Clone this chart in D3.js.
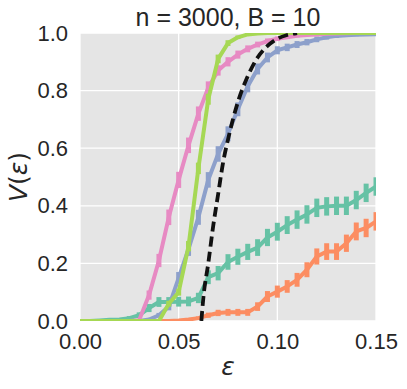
<!DOCTYPE html>
<html>
<head>
<meta charset="utf-8">
<script src="https://cdn.jsdelivr.net/npm/d3@7"></script>
<style>
	body { margin: 0; background: #fff; }
	text { fill: #262626; }
</style>
</head>
<body>
<div id="chart"></div>
<script>
// epsilon grid of the simulations
let eps = [0, 0.005, 0.01, 0.015, 0.02, 0.025, 0.03, 0.035, 0.04, 0.045, 0.05,
	0.055, 0.06, 0.065, 0.07, 0.075, 0.08, 0.085, 0.09, 0.095, 0.1,
	0.105, 0.11, 0.115, 0.12, 0.125, 0.13, 0.135, 0.14, 0.145, 0.15];

let tealVals = [0, 0, 0.002, 0.004, 0.005, 0.01, 0.02, 0.045, 0.066, 0.066, 0.067,
	0.068, 0.08, 0.152, 0.166, 0.205, 0.223, 0.24, 0.255, 0.29, 0.31,
	0.333, 0.352, 0.37, 0.393, 0.398, 0.4, 0.4, 0.42, 0.445, 0.467];
let tealErr = [0, 0, 0.003, 0.004, 0.005, 0.007, 0.01, 0.014, 0.017, 0.017, 0.017,
	0.017, 0.018, 0.024, 0.025, 0.027, 0.028, 0.028, 0.029, 0.03, 0.031,
	0.031, 0.032, 0.032, 0.032, 0.032, 0.032, 0.032, 0.032, 0.032, 0.032];

let orangeVals = [0, 0, 0, 0, 0, 0, 0, 0, 0, 0, 0.002,
	0.005, 0.01, 0.02, 0.028, 0.03, 0.03, 0.03, 0.05, 0.085, 0.102,
	0.12, 0.143, 0.178, 0.224, 0.241, 0.241, 0.27, 0.311, 0.323, 0.346];
let orangeErr = [0, 0, 0, 0, 0, 0, 0, 0, 0, 0, 0.002,
	0.004, 0.006, 0.009, 0.011, 0.012, 0.012, 0.012, 0.015, 0.019, 0.021,
	0.022, 0.024, 0.026, 0.028, 0.029, 0.029, 0.03, 0.031, 0.032, 0.032];

let blueVals = [0, 0, 0, 0, 0, 0, 0, 0.005, 0.02, 0.05, 0.15,
	0.25, 0.36, 0.49, 0.58, 0.65, 0.735, 0.815, 0.875, 0.915, 0.94,
	0.95, 0.96, 0.968, 0.978, 0.985, 0.99, 0.992, 0.994, 0.995, 0.996];
let blueErr = [0, 0, 0, 0, 0, 0, 0, 0.004, 0.008, 0.013, 0.02,
	0.024, 0.026, 0.027, 0.027, 0.026, 0.024, 0.021, 0.019, 0.017, 0.014,
	0.013, 0.012, 0.011, 0.01, 0.008, 0.007, 0.006, 0.005, 0.004, 0.004];

let pinkVals = [0, 0, 0, 0, 0, 0, 0.003, 0.09, 0.21, 0.36, 0.49,
	0.61, 0.72, 0.81, 0.87, 0.9, 0.925, 0.945, 0.96, 0.972, 0.98,
	0.985, 0.99, 0.993, 0.995, 0.997, 0.998, 0.999, 1, 1, 1];
let pinkErr = [0, 0, 0, 0, 0, 0, 0.003, 0.016, 0.023, 0.027, 0.028,
	0.027, 0.025, 0.022, 0.018, 0.016, 0.014, 0.012, 0.01, 0.009, 0.008,
	0.006, 0.005, 0.004, 0.004, 0.003, 0.002, 0.001, 0, 0, 0];

let greenVals = [0, 0, 0, 0, 0, 0, 0, 0, 0, 0.06, 0.1,
	0.26, 0.53, 0.77, 0.91, 0.965, 0.985, 0.995, 0.998, 1, 1,
	1, 1, 1, 1, 1, 1, 1, 1, 1, 1];
let greenErr = [0, 0, 0, 0, 0, 0, 0, 0, 0, 0.01, 0.012,
	0.018, 0.02, 0.019, 0.015, 0.01, 0.006, 0.004, 0.002, 0, 0,
	0, 0, 0, 0, 0, 0, 0, 0, 0, 0];

// theoretical curve (dashed)
let theoryEps = [0.0615, 0.0625, 0.065, 0.0675, 0.07, 0.0725, 0.075, 0.0775,
	0.08, 0.085, 0.09, 0.095, 0.1, 0.105, 0.11];
let theoryVals = [0, 0.08, 0.2, 0.33, 0.44, 0.55, 0.63, 0.7,
	0.76, 0.85, 0.915, 0.955, 0.98, 0.993, 1];

let xTicks = [0, 0.05, 0.1, 0.15];
let yTicks = [0, 0.2, 0.4, 0.6, 0.8, 1.0];

let series = [
	{ vals: tealVals, err: tealErr, color: "#66c2a5" },
	{ vals: orangeVals, err: orangeErr, color: "#fc8d62" },
	{ vals: blueVals, err: blueErr, color: "#8da0cb" },
	{ vals: pinkVals, err: pinkErr, color: "#e78ac3" },
	{ vals: greenVals, err: greenErr, color: "#a6d854" },
];

var w = 407,
	h = 389;
var mLeft = 80,
	mRight = 376,
	mTop = 33,
	mBottom = 321;

var x = d3.scaleLinear().domain([0, 0.15]).range([mLeft, mRight]);
var y = d3.scaleLinear().domain([0, 1]).range([mBottom, mTop]);

var svg = d3
	.select("#chart")
	.append("svg")
	.attr("width", w)
	.attr("height", h);

svg
	.append("rect")
	.attr("x", mLeft)
	.attr("y", mTop)
	.attr("width", mRight - mLeft)
	.attr("height", mBottom - mTop)
	.attr("fill", "#e5e5e5");

svg
	.append("clipPath")
	.attr("id", "clip")
	.append("rect")
	.attr("x", mLeft)
	.attr("y", mTop)
	.attr("width", mRight - mLeft)
	.attr("height", mBottom - mTop);

// grid
svg
	.append("g")
	.selectAll("line")
	.data(xTicks)
	.enter()
	.append("line")
	.attr("x1", (d) => x(d))
	.attr("x2", (d) => x(d))
	.attr("y1", mTop)
	.attr("y2", mBottom)
	.attr("stroke", "white")
	.attr("stroke-width", 1.3);

svg
	.append("g")
	.selectAll("line")
	.data(yTicks)
	.enter()
	.append("line")
	.attr("x1", mLeft)
	.attr("x2", mRight)
	.attr("y1", (d) => y(d))
	.attr("y2", (d) => y(d))
	.attr("stroke", "white")
	.attr("stroke-width", 1.3);

// axes (labels only, no spines or tick marks)
var xAxis = d3
	.axisBottom(x)
	.tickValues(xTicks)
	.tickSize(0)
	.tickPadding(12)
	.tickFormat(d3.format(".2f"));
var gx = svg
	.append("g")
	.attr("transform", "translate(0," + mBottom + ")")
	.call(xAxis);
gx.select(".domain").remove();
gx.selectAll("text")
	.attr("font-family", "Liberation Sans, Arial, sans-serif")
	.attr("font-size", 22)
	.attr("fill", "#262626");

var yAxis = d3
	.axisLeft(y)
	.tickValues(yTicks)
	.tickSize(0)
	.tickPadding(12)
	.tickFormat(d3.format(".1f"));
var gy = svg
	.append("g")
	.attr("transform", "translate(" + mLeft + ",0)")
	.call(yAxis);
gy.select(".domain").remove();
gy.selectAll("text")
	.attr("font-family", "Liberation Sans, Arial, sans-serif")
	.attr("font-size", 22)
	.attr("fill", "#262626");

var plot = svg.append("g").attr("clip-path", "url(#clip)");

var line = d3
	.line()
	.x((d, i) => x(eps[i]))
	.y((d) => y(d));

series.forEach(function (s) {
	var g = plot.append("g");
	g.append("path")
		.datum(s.vals)
		.attr("d", line)
		.attr("fill", "none")
		.attr("stroke", s.color)
		.attr("stroke-width", 4)
		.attr("stroke-linejoin", "round");
	g.selectAll("line")
		.data(s.vals)
		.enter()
		.append("line")
		.attr("x1", (d, i) => x(eps[i]))
		.attr("x2", (d, i) => x(eps[i]))
		.attr("y1", (d, i) => y(d - s.err[i]))
		.attr("y2", (d, i) => y(d + s.err[i]))
		.attr("stroke", s.color)
		.attr("stroke-width", 5);
});

var theoryLine = d3
	.line()
	.x((d, i) => x(theoryEps[i]))
	.y((d) => y(d))
	.curve(d3.curveMonotoneX);

plot
	.append("path")
	.datum(theoryVals)
	.attr("d", theoryLine)
	.attr("fill", "none")
	.attr("stroke", "#111")
	.attr("stroke-width", 3.8)
	.attr("stroke-dasharray", "10,5");

// title and axis labels
svg
	.append("text")
	.attr("x", (mLeft + mRight) / 2)
	.attr("y", 26)
	.attr("text-anchor", "middle")
	.attr("font-family", "Liberation Sans, Arial, sans-serif")
	.attr("font-size", 25)
	.text("n = 3000, B = 10");

svg
	.append("text")
	.attr("x", (mLeft + mRight) / 2)
	.attr("y", 375)
	.attr("text-anchor", "middle")
	.attr("font-family", "DejaVu Sans, sans-serif")
	.attr("font-style", "italic")
	.attr("font-size", 25)
	.text("ε");

var yl = svg
	.append("text")
	.attr("transform", "translate(27," + (mTop + mBottom) / 2 + ") rotate(-90)")
	.attr("text-anchor", "middle")
	.attr("font-family", "DejaVu Sans, sans-serif")
	.attr("font-size", 25);
yl.append("tspan").attr("font-style", "italic").text("V");
yl.append("tspan").text("(");
yl.append("tspan").attr("font-style", "italic").text("ε");
yl.append("tspan").text(")");
</script>
</body>
</html>
